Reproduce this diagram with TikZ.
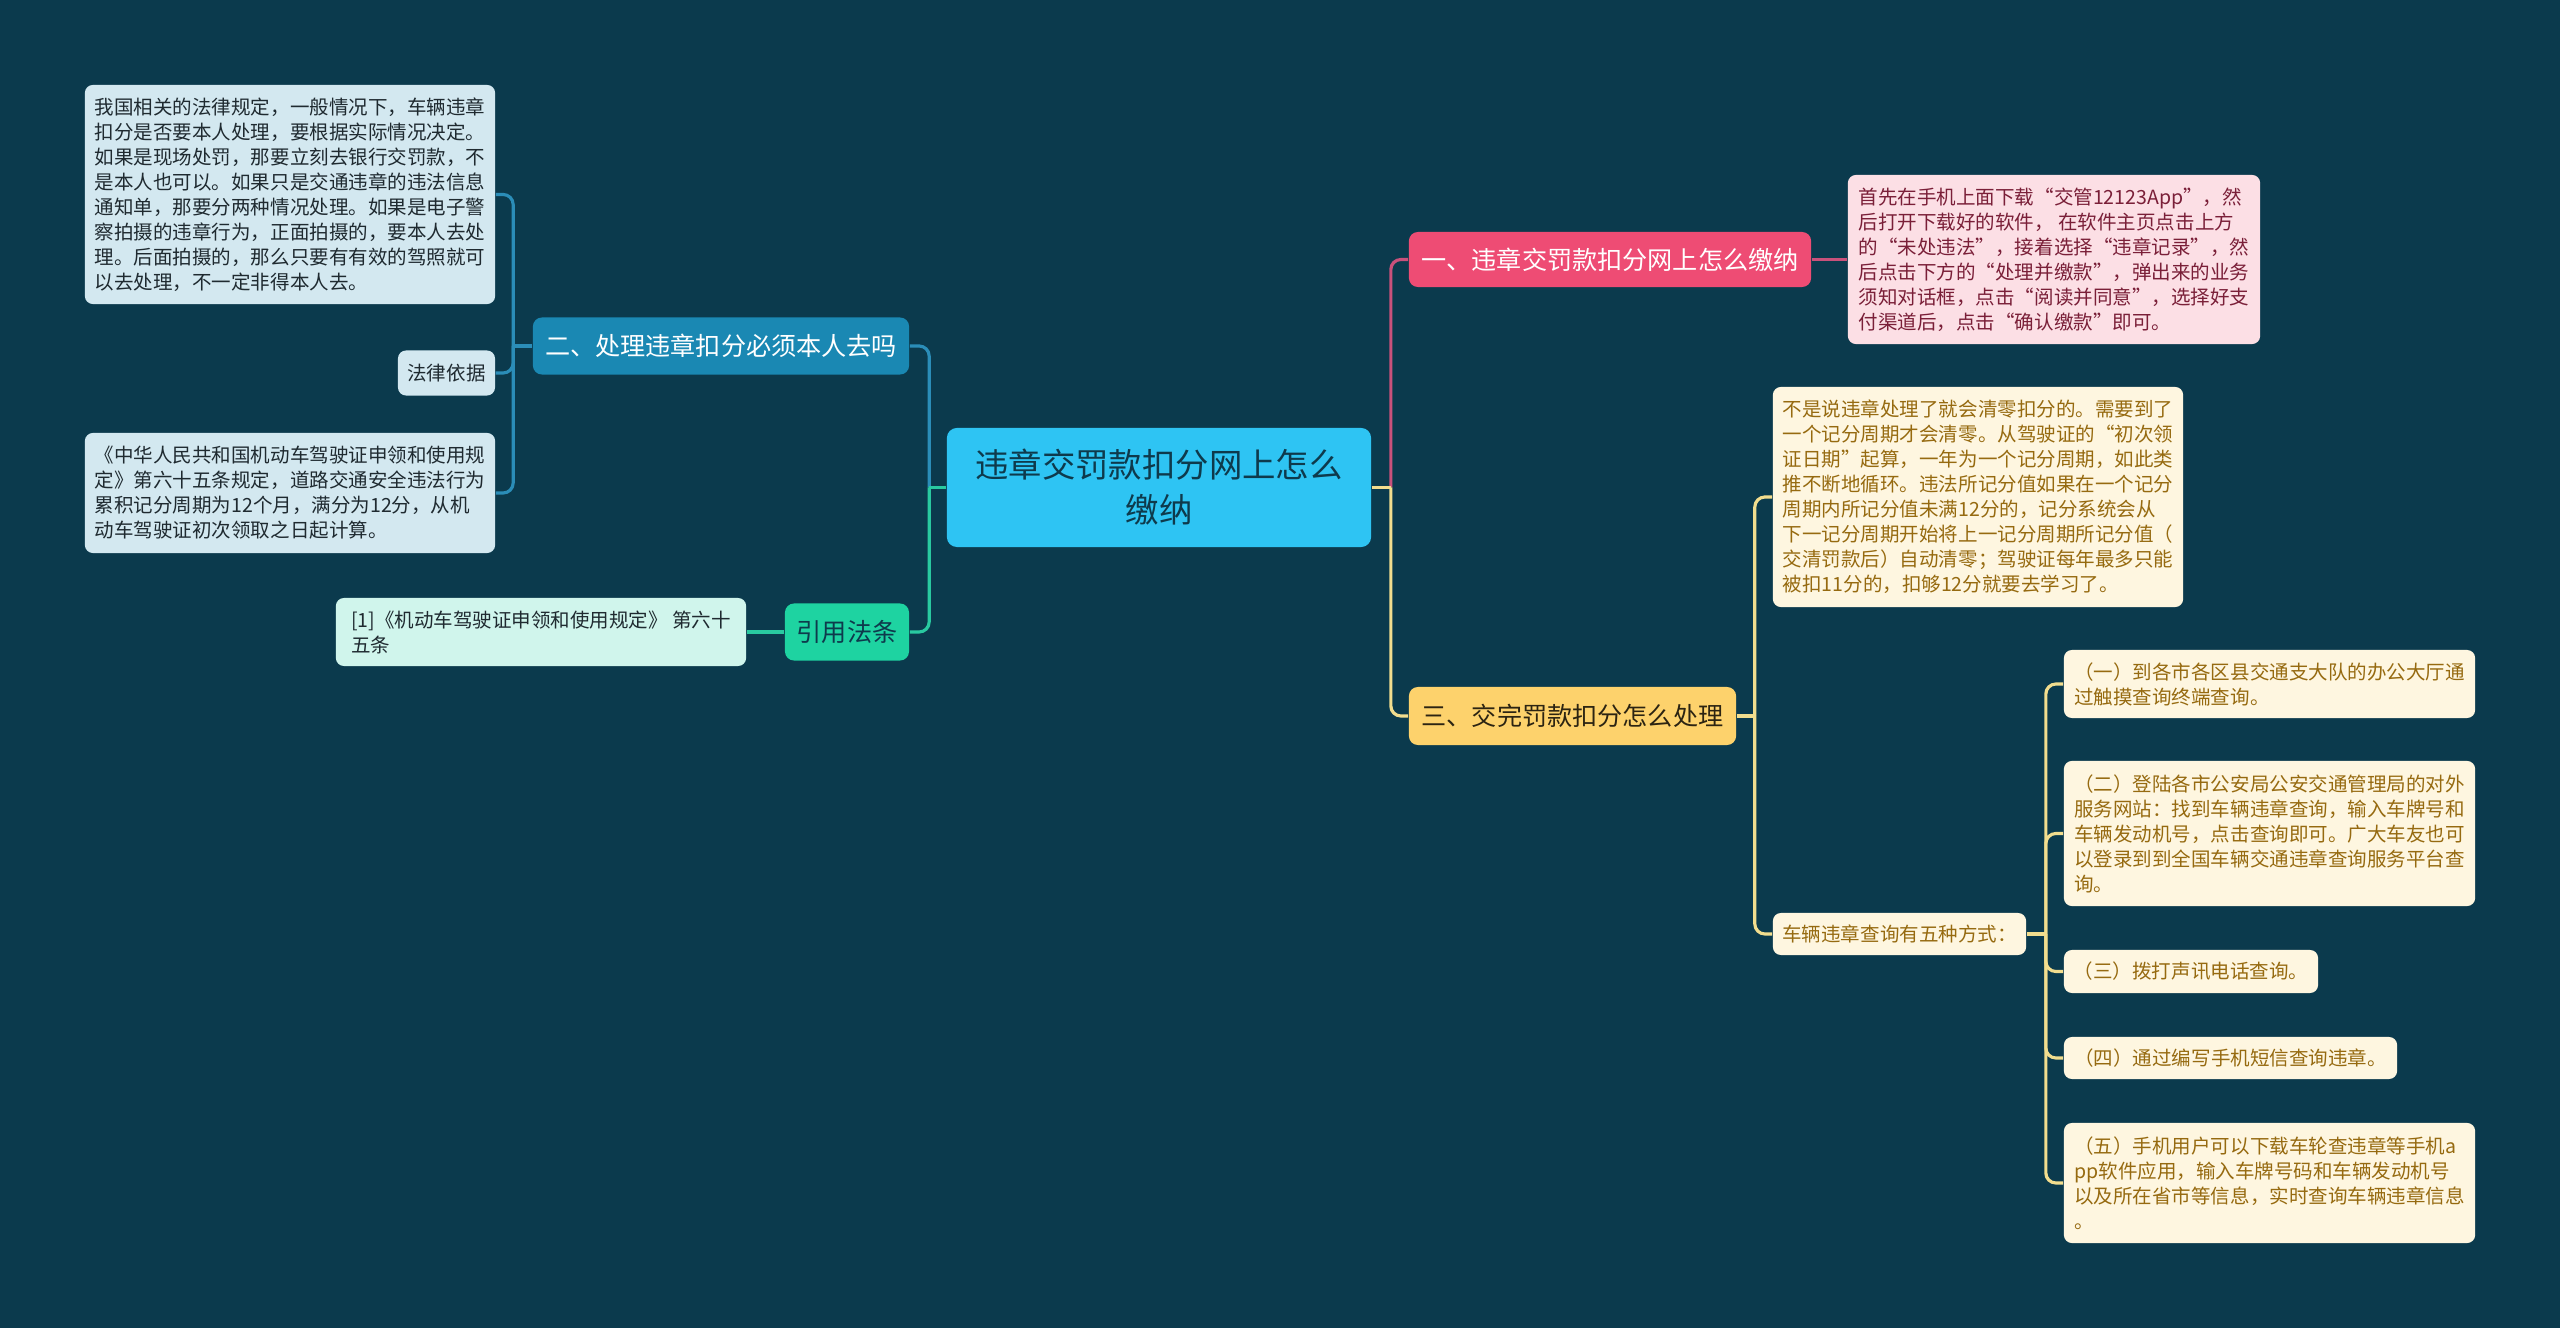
\documentclass[tikz,border=0pt]{standalone}
\usepackage{fontspec}
\newfontfamily\cjk{Noto Sans CJK SC}
\usepackage{xcolor}
\usepackage{tikz}
\definecolor{bgsea}{HTML}{0B3A4D}
\definecolor{rootfill}{HTML}{2EC4F3}
\definecolor{roottext}{HTML}{0E3A4C}
\definecolor{twofill}{HTML}{1A88B3}
\definecolor{bluelink}{HTML}{2B8DB8}
\definecolor{paleblue}{HTML}{D3E8F0}
\definecolor{inktext}{HTML}{1F2A30}
\definecolor{reffill}{HTML}{1ED3A1}
\definecolor{greenlink}{HTML}{29C9A0}
\definecolor{mintfill}{HTML}{D0F5EC}
\definecolor{onefill}{HTML}{EE4C74}
\definecolor{pinklink}{HTML}{C9517B}
\definecolor{pinkfill}{HTML}{FCDFE5}
\definecolor{pinktext}{HTML}{7A1F38}
\definecolor{threefill}{HTML}{FDD26C}
\definecolor{threetext}{HTML}{2C2412}
\definecolor{yellowlink}{HTML}{F2DD8E}
\definecolor{creamfill}{HTML}{FEF6E0}
\definecolor{creamtext}{HTML}{966A10}

\begin{document}
\begin{tikzpicture}[x=0.01cm, y=-0.01cm,
    hub/.style={fill=rootfill, text=roottext, rounded corners=0.1cm, align=center, inner sep=0pt,
        font=\cjk\fontsize{9.5pt}{12.8pt}\selectfont},
    topic/.style={rounded corners=0.09cm, align=center, inner sep=0pt, minimum height=0.57cm,
        font=\cjk\fontsize{7.15pt}{9pt}\selectfont},
    card/.style={rounded corners=0.08cm, align=left, inner xsep=0.095cm, inner ysep=0pt,
        font=\cjk\fontsize{5.55pt}{7.1pt}\selectfont},
    bluecard/.style={card, fill=paleblue, text=inktext},
    pinkcard/.style={card, fill=pinkfill, text=pinktext},
    creamcard/.style={card, fill=creamfill, text=creamtext},
    link/.style={line width=0.9pt, rounded corners=0.1cm}
]
\fill[bgsea] (0,0) rectangle (2560,1328);

% centre
\node[hub, minimum width=4.24cm, minimum height=1.19cm] (root) at (1159,487.5) {违章交罚款扣分网上怎么\\缴纳};

% left branches
\node[topic, fill=twofill, text=white, minimum width=3.76cm] (two) at (721,346) {二、处理违章扣分必须本人去吗};
\node[topic, fill=reffill, text=roottext, minimum width=1.24cm] (ref) at (847,632) {引用法条};

\node[bluecard, minimum width=4.10cm, minimum height=2.19cm] (lawA) at (290,194.5) {我国相关的法律规定，一般情况下，车辆违章\\扣分是否要本人处理，要根据实际情况决定。\\如果是现场处罚，那要立刻去银行交罚款，不\\是本人也可以。如果只是交通违章的违法信息\\通知单，那要分两种情况处理。如果是电子警\\察拍摄的违章行为，正面拍摄的，要本人去处\\理。后面拍摄的，那么只要有有效的驾照就可\\以去处理，不一定非得本人去。};
\node[bluecard, minimum width=0.97cm, minimum height=0.45cm] (basis) at (446.5,373) {法律依据};
\node[bluecard, minimum width=4.10cm, minimum height=1.20cm] (statute) at (290,493) {《中华人民共和国机动车驾驶证申领和使用规\\定》第六十五条规定，道路交通安全违法行为\\累积记分周期为12个月，满分为12分，从机\\动车驾驶证初次领取之日起计算。};
\node[card, fill=mintfill, text=inktext, minimum width=4.10cm, minimum height=0.68cm] (cite) at (541,632) {[1]《机动车驾驶证申领和使用规定》 第六十\\五条};

% right branches
\node[topic, fill=onefill, text=white, minimum width=4.02cm, minimum height=0.55cm] (one) at (1610,259.5) {一、违章交罚款扣分网上怎么缴纳};
\node[topic, fill=threefill, text=threetext, minimum width=3.27cm, minimum height=0.58cm] (three) at (1572.5,716) {三、交完罚款扣分怎么处理};

\node[pinkcard, minimum width=4.12cm, minimum height=1.69cm] (steps) at (2054,259.5) {首先在手机上面下载“交管12123App”，然\\后打开下载好的软件， 在软件主页点击上方\\的“未处违法”，接着选择“违章记录”，然\\后点击下方的“处理并缴款”，弹出来的业务\\须知对话框，点击“阅读并同意”，选择好支\\付渠道后，点击“确认缴款”即可。};
\node[creamcard, minimum width=4.10cm, minimum height=2.20cm] (rule) at (1978,497) {不是说违章处理了就会清零扣分的。需要到了\\一个记分周期才会清零。从驾驶证的“初次领\\证日期”起算，一年为一个记分周期，如此类\\推不断地循环。违法所记分值如果在一个记分\\周期内所记分值未满12分的，记分系统会从\\下一记分周期开始将上一记分周期所记分值（\\交清罚款后）自动清零；驾驶证每年最多只能\\被扣11分的，扣够12分就要去学习了。};
\node[creamcard, minimum width=2.53cm, minimum height=0.42cm] (ways) at (1899.5,934) {车辆违章查询有五种方式：};

\node[creamcard, minimum width=4.11cm, minimum height=0.68cm] (m1) at (2269.5,684) {（一）到各市各区县交通支大队的办公大厅通\\过触摸查询终端查询。};
\node[creamcard, minimum width=4.11cm, minimum height=1.45cm] (m2) at (2269.5,833.5) {（二）登陆各市公安局公安交通管理局的对外\\服务网站：找到车辆违章查询，输入车牌号和\\车辆发动机号，点击查询即可。广大车友也可\\以登录到到全国车辆交通违章查询服务平台查\\询。};
\node[creamcard, minimum width=2.54cm, minimum height=0.43cm] (m3) at (2191,971.5) {（三）拨打声讯电话查询。};
\node[creamcard, minimum width=3.33cm, minimum height=0.42cm] (m4) at (2230.5,1058) {（四）通过编写手机短信查询违章。};
\node[creamcard, minimum width=4.11cm, minimum height=1.20cm] (m5) at (2269.5,1183) {（五）手机用户可以下载车轮查违章等手机a\\pp软件应用，输入车牌号码和车辆发动机号\\以及所在省市等信息，实时查询车辆违章信息\\。};

% connectors
\draw[link, bluelink] ([xshift=-0.17cm]root.west) |- (two.east);
\draw[link, greenlink] ([xshift=-0.17cm]root.west) |- (ref.east);
\draw[link, greenlink] (root.west) -- ++(-0.17cm,0);
\foreach \n in {lawA,basis,statute}
    \draw[link, bluelink] ([xshift=-0.19cm]two.west) |- (\n.east);
\draw[link, bluelink] (two.west) -- ++(-0.19cm,0);
\draw[link, greenlink] (ref.west) -- (cite.east);

\draw[link, pinklink] ([xshift=0.19cm]root.east) |- (one.west);
\draw[link, yellowlink] ([xshift=0.19cm]root.east) |- (three.west);
\draw[link, yellowlink] (root.east) -- ++(0.19cm,0);
\draw[link, pinklink] (one.east) -- (steps.west);
\foreach \n in {rule,ways}
    \draw[link, yellowlink] ([xshift=0.18cm]three.east) |- (\n.west);
\draw[link, yellowlink] (three.east) -- ++(0.18cm,0);
\foreach \n in {m1,m2,m3,m4,m5}
    \draw[link, yellowlink] ([xshift=0.19cm]ways.east) |- (\n.west);
\draw[link, yellowlink] (ways.east) -- ++(0.19cm,0);
\end{tikzpicture}
\end{document}
